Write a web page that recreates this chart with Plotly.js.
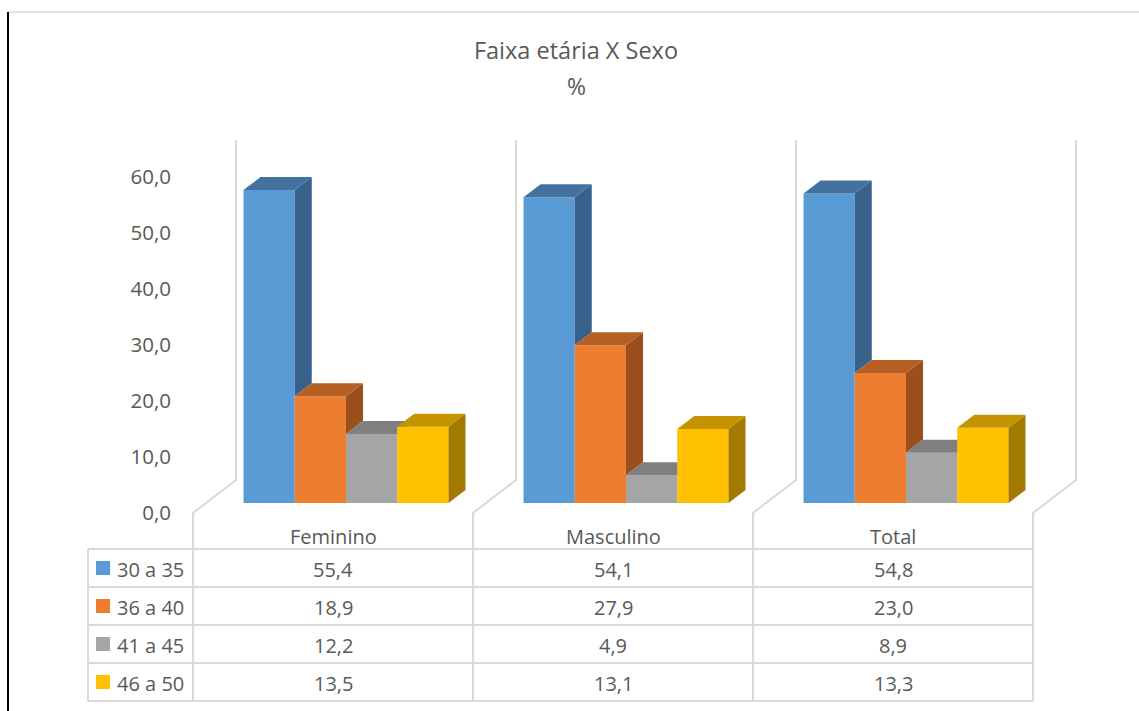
<!DOCTYPE html>
<html><head><meta charset="utf-8">
<script src="https://cdn.plot.ly/plotly-3.0.1.min.js"></script>
<style>html,body{margin:0;padding:0;background:#fff;}#chart{width:1139px;height:711px;}</style>
</head><body><div id="chart"></div>
<script>
// ---- data ----
const categories = ['Feminino', 'Masculino', 'Total'];
const seriesNames = ['30 a 35', '36 a 40', '41 a 45', '46 a 50'];
const s30a35 = [55.4, 54.1, 54.8];
const s36a40 = [18.9, 27.9, 23.0];
const s41a45 = [12.2, 4.9, 8.9];
const s46a50 = [13.5, 13.1, 13.3];
const yTicks = [0, 10, 20, 30, 40, 50, 60];
const seriesValues = [s30a35, s36a40, s41a45, s46a50];

// ---- styles ----
const frontColors = ['#5B9BD5', '#ED7D31', '#A5A5A5', '#FFC000'];
const topColors   = ['#44729F', '#B65F22', '#7F7F7F', '#C49300'];
const sideColors  = ['#37618A', '#9B4F1D', '#6B6B6B', '#A27A00'];
const textColor = '#595959';
const lineColor = '#D9D9D9';
const FONT = 'Open Sans, Noto Sans, sans-serif';

// ---- geometry (pixels) ----
const W = 1139, H = 711, PL = 206, PR = 1046, PT = 140, PB = 513;
const PX_PER_CAT = (PR - PL) / 3;
const LABEL_PX_PER_UNIT = 5.6, BAR_PX_PER_UNIT = 5.65, BAR_BASE_PX = 10;
const BARGAP = 0.268, NS = 4, BW = (1 - BARGAP) / NS;
const DDX = 17 / PX_PER_CAT, DDY = 13 / BAR_PX_PER_UNIT;
const px2x = px => (px - PL) / (PR - PL);
const px2y = py => (PB - py) / (PB - PT);
const fmt = v => v.toFixed(1).replace('.', ',');

const traces = [];
// invisible trace that anchors the value axis (tick labels) subplot
traces.push({type: 'scatter', mode: 'none', x: [0, 0], y: [yTicks[0], yTicks[yTicks.length - 1]],
  yaxis: 'y', hoverinfo: 'skip', showlegend: false});
// front faces: real bar traces
seriesNames.forEach((name, s) => {
  traces.push({
    type: 'bar', name: name, x: categories.map((_, i) => i), y: seriesValues[s],
    yaxis: 'y2', marker: {color: frontColors[s], line: {width: 0}},
    hovertemplate: '%{y:.1f}<extra>' + name + '</extra>'
  });
});
// 3D side / top faces derived from the same values
function poly(pts, color) {
  traces.push({
    type: 'scatter', mode: 'lines', x: pts.map(p => p[0]).concat([pts[0][0]]),
    y: pts.map(p => p[1]).concat([pts[0][1]]), yaxis: 'y2', fill: 'toself',
    fillcolor: color, line: {color: color, width: 0}, hoverinfo: 'skip', showlegend: false
  });
}
categories.forEach((_, c) => {
  seriesNames.forEach((_, s) => {
    const v = seriesValues[s][c];
    const vn = s < NS - 1 ? seriesValues[s + 1][c] : 0;
    const xl = c - (1 - BARGAP) / 2 + s * BW, xr = xl + BW;
    if (vn < v) {
      poly([[xr, vn], [xr + DDX, vn + DDY], [xr + DDX, v + DDY], [xr, v]], sideColors[s]);
    }
    const d = vn - v;
    if (d <= 0) {
      poly([[xl, v], [xl + DDX, v + DDY], [xr + DDX, v + DDY], [xr, v]], topColors[s]);
    } else if (d >= DDY) {
      poly([[xl, v], [xl + DDX, v + DDY], [xr, v + DDY], [xr, v]], topColors[s]);
    } else {
      poly([[xl, v], [xl + DDX, v + DDY], [xr + DDX, v + DDY],
            [xr + d / DDY * DDX, v + d], [xr, v + d], [xr, v]], topColors[s]);
    }
  });
});

// ---- table, walls, legend keys ----
const shapes = [];
const annotations = [];
const line = (x0, y0, x1, y1, color, width, layer) => shapes.push({
  type: 'line', xref: 'paper', yref: 'paper', x0: px2x(x0), y0: px2y(y0), x1: px2x(x1), y1: px2y(y1),
  line: {color: color, width: width}, layer: layer || 'below'
});
// document frame
line(8, 12, W, 12, '#D9D9D9', 1.5, 'above');
line(8, 12, 8, H, '#000000', 2, 'above');
// walls (category gridlines on floor and back wall) extended into table column dividers
const TABLE_LEFT = 88, COL0 = 193, ROW_TOP = 549, ROW_H = 38, FLOOR_FRONT = 513, FLOOR_BACK = 480, WALL_TOP = 140, WALL_DX = 43;
for (let k = 0; k <= categories.length; k++) {
  const xf = COL0 + k * PX_PER_CAT;
  shapes.push({
    type: 'path', xref: 'paper', yref: 'paper', layer: 'below',
    path: `M ${px2x(xf)} ${px2y(ROW_TOP + ROW_H * 4)} L ${px2x(xf)} ${px2y(FLOOR_FRONT)} L ${px2x(xf + WALL_DX)} ${px2y(FLOOR_BACK)} L ${px2x(xf + WALL_DX)} ${px2y(WALL_TOP)}`,
    line: {color: lineColor, width: 2}
  });
}
const tableRight = COL0 + categories.length * PX_PER_CAT;
for (let r = 0; r <= seriesNames.length; r++) {
  line(TABLE_LEFT, ROW_TOP + r * ROW_H, tableRight, ROW_TOP + r * ROW_H, lineColor, 2);
}
line(TABLE_LEFT, ROW_TOP, TABLE_LEFT, ROW_TOP + ROW_H * 4, lineColor, 2);

// header
categories.forEach((cat, c) => {
  annotations.push({xref: 'paper', yref: 'paper', x: px2x(COL0 + (c + 0.5) * PX_PER_CAT), y: px2y(536),
    text: cat, showarrow: false, xanchor: 'center', yanchor: 'middle', font: {size: 20, color: textColor}});
});
seriesNames.forEach((name, s) => {
  const cy = ROW_TOP + (s + 0.5) * ROW_H;
  shapes.push({type: 'rect', xref: 'paper', yref: 'paper', x0: px2x(96), x1: px2x(110), y0: px2y(cy - 7), y1: px2y(cy + 7),
    fillcolor: frontColors[s], line: {width: 0}, layer: 'above'});
  annotations.push({xref: 'paper', yref: 'paper', x: px2x(115), y: px2y(cy + 1), text: name, showarrow: false,
    xanchor: 'left', yanchor: 'middle', font: {size: 20, color: textColor}});
  categories.forEach((_, c) => {
    annotations.push({xref: 'paper', yref: 'paper', x: px2x(COL0 + (c + 0.5) * PX_PER_CAT), y: px2y(cy + 1),
      text: fmt(seriesValues[s][c]), showarrow: false, xanchor: 'center', yanchor: 'middle', font: {size: 20, color: textColor}});
  });
});
// subtitle
annotations.push({xref: 'paper', yref: 'paper', x: px2x(576), y: px2y(86), text: '%', showarrow: false,
  xanchor: 'center', yanchor: 'middle', font: {size: 23, color: textColor}});

const layout = {
  width: W, height: H,
  margin: {l: PL, r: W - PR, t: PT, b: H - PB, pad: 0},
  paper_bgcolor: '#FFFFFF', plot_bgcolor: 'rgba(0,0,0,0)',
  font: {family: FONT, color: textColor, size: 20},
  separators: ',.',
  title: {text: 'Faixa etária X Sexo', x: 576 / W, xanchor: 'center', xref: 'container',
    y: 1 - 51 / H, yanchor: 'middle', yref: 'container', font: {size: 23.5, color: textColor}},
  barmode: 'group', bargap: BARGAP, bargroupgap: 0,
  showlegend: false,
  xaxis: {range: [-0.5, 2.5], visible: false, fixedrange: true},
  yaxis: {range: [0, (PB - PT) / LABEL_PX_PER_UNIT], tickvals: yTicks, tickformat: '.1f',
    showgrid: false, zeroline: false, showline: false, ticks: '', ticklabelstandoff: 34,
    tickfont: {size: 20.5, color: textColor}, fixedrange: true},
  yaxis2: {overlaying: 'y', range: [-BAR_BASE_PX / BAR_PX_PER_UNIT, (PB - PT - BAR_BASE_PX) / BAR_PX_PER_UNIT],
    visible: false, fixedrange: true},
  shapes: shapes, annotations: annotations
};
Plotly.newPlot('chart', traces, layout, {displayModeBar: false, responsive: false});
</script>
</body></html>
